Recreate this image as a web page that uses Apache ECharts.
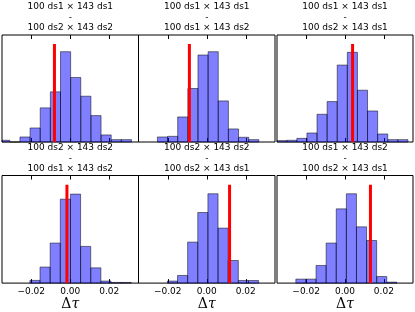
<!DOCTYPE html>
<html>
<head>
<meta charset="utf-8">
<script src="https://cdn.jsdelivr.net/npm/echarts@6/dist/echarts.min.js"></script>
<style>
  html, body {margin: 0; padding: 0; background: #fff;}
  #chart {width: 415px; height: 312px;}
</style>
</head>
<body>
<div id="chart"></div>
<script>
// x range shared by all panels
const xMin = -0.035;
const xMax = 0.035;
const xTicks = [-0.02, 0, 0.02];
const binWidth = 0.0052;

// panel titles (top line, bottom line)
const titleTop = ['100 ds1 × 143 ds1', '100 ds1 × 143 ds1', '100 ds1 × 143 ds1',
                  '100 ds2 × 143 ds2', '100 ds2 × 143 ds2', '100 ds1 × 143 ds2'];
const titleBottom = ['100 ds2 × 143 ds2', '100 ds1 × 143 ds2', '100 ds2 × 143 ds1',
                     '100 ds1 × 143 ds2', '100 ds2 × 143 ds1', '100 ds2 × 143 ds1'];

// first bin edge of each histogram
const firstEdge = [-0.0362, -0.0253, -0.0352, -0.0207, -0.0202, -0.0253];

// bin heights (share of the y range, in %)
const counts1 = [1.6, 0, 4.7, 13.1, 31.9, 46.9, 84.4, 60.3, 42.8, 24.7, 6.6, 2.2, 2.2];
const counts2 = [4.7, 5.3, 23.4, 50, 81.3, 84.4, 38.4, 12.2, 4.4, 2.2];
const counts3 = [1.3, 1.6, 3.4, 8.4, 25.9, 37.8, 71.9, 83.8, 48.4, 29, 7.5, 2.2, 2.2];
const counts4 = [2.5, 14.9, 37.2, 78, 82.7, 34.1, 14.2, 1.9, 0.6, 0.6];
const counts5 = [1.9, 7.1, 38.1, 65.6, 83, 51.1, 21, 2.4, 2.4];
const counts6 = [3.7, 3.7, 16.4, 37.2, 69, 83, 52.3, 39.6, 6.1, 0.9];
const allCounts = [counts1, counts2, counts3, counts4, counts5, counts6];

// observed value (red line) per panel and its height
const observed = [-0.0081, -0.0089, 0.0039, -0.0017, 0.0117, 0.0131];
const observedTop = 91.5;

// layout
const colLeft = [2, 138.5, 277];
const colWidth = [136.5, 136.5, 136];
const rowTop = [35, 175.5];
const rowHeight = [107, 108];
const titleY = [2, 143];

const chart = echarts.init(document.getElementById('chart'), null, {renderer: 'canvas'});

function renderBar(params, api) {
    const p0 = api.coord([api.value(0), 0]);
    const p1 = api.coord([api.value(1), api.value(2)]);
    const rect = echarts.graphic.clipRectByRect({
        x: p0[0], y: p1[1], width: p1[0] - p0[0], height: p0[1] - p1[1]
    }, params.coordSys);
    if (!rect) return;
    return {
        type: 'rect',
        shape: rect,
        style: {fill: 'rgba(0,0,255,0.5)', stroke: 'rgba(0,0,0,0.5)', lineWidth: 1}
    };
}

const fmt = v => v === 0 ? '0.00' : (v < 0 ? '\u2212' + Math.abs(v).toFixed(2) : v.toFixed(2));

const grid = [], xAxis = [], yAxis = [], series = [], title = [];

for (let i = 0; i < 6; i++) {
    const c = i % 3, r = Math.floor(i / 3);
    grid.push({
        left: colLeft[c], top: rowTop[r], width: colWidth[c], height: rowHeight[r],
        show: true, borderColor: '#000', borderWidth: 1, backgroundColor: 'transparent'
    });
    const bottomRow = r === 1;
    xAxis.push({
        type: 'value', gridIndex: i, min: xMin, max: xMax, position: 'bottom',
        axisLine: {show: false},
        splitLine: {show: false},
        axisTick: {show: true, inside: true, length: 4, customValues: xTicks, lineStyle: {color: '#000'}},
        axisLabel: {
            show: bottomRow, customValues: xTicks, formatter: fmt, margin: 4,
            fontSize: 9, color: '#000', fontFamily: 'DejaVu Sans'
        },
        name: bottomRow ? '{d|Δ}{t|τ}' : '',
        nameLocation: 'middle', nameGap: 13,
        nameTextStyle: {
            rich: {
                d: {fontSize: 14, fontFamily: 'DejaVu Serif', color: '#000'},
                t: {fontSize: 14, fontFamily: 'DejaVu Serif', fontStyle: 'italic', color: '#000'}
            }
        }
    });
    xAxis.push({
        type: 'value', gridIndex: i, min: xMin, max: xMax, position: 'top',
        axisLine: {show: false},
        splitLine: {show: false},
        axisTick: {show: true, inside: true, length: 4, customValues: xTicks, lineStyle: {color: '#000'}},
        axisLabel: {show: false}
    });
    yAxis.push({
        type: 'value', gridIndex: i, min: 0, max: 100,
        axisLine: {show: false}, axisTick: {show: false},
        axisLabel: {show: false}, splitLine: {show: false}
    });

    const bars = allCounts[i].map((h, k) => [
        +(firstEdge[i] + k * binWidth).toFixed(5),
        +(firstEdge[i] + (k + 1) * binWidth).toFixed(5),
        h
    ]);
    series.push({
        type: 'custom', xAxisIndex: 2 * i, yAxisIndex: i,
        renderItem: renderBar, data: bars, encode: {x: [0, 1], y: 2},
        silent: true, animation: false
    });
    series.push({
        type: 'line', xAxisIndex: 2 * i, yAxisIndex: i,
        data: [[observed[i], 0], [observed[i], observedTop]],
        symbol: 'none', lineStyle: {color: '#ff0000', width: 3},
        silent: true, animation: false, z: 5
    });

    title.push({
        text: titleTop[i] + '\n-\n' + titleBottom[i],
        left: colLeft[c] + colWidth[c] / 2, top: titleY[r], textAlign: 'center', padding: 0,
        textStyle: {fontSize: 9, lineHeight: 10.3, fontWeight: 'normal', color: '#000', fontFamily: 'DejaVu Sans'}
    });
}

chart.setOption({
    animation: false,
    title: title,
    grid: grid,
    xAxis: xAxis,
    yAxis: yAxis,
    series: series
});
</script>
</body>
</html>
